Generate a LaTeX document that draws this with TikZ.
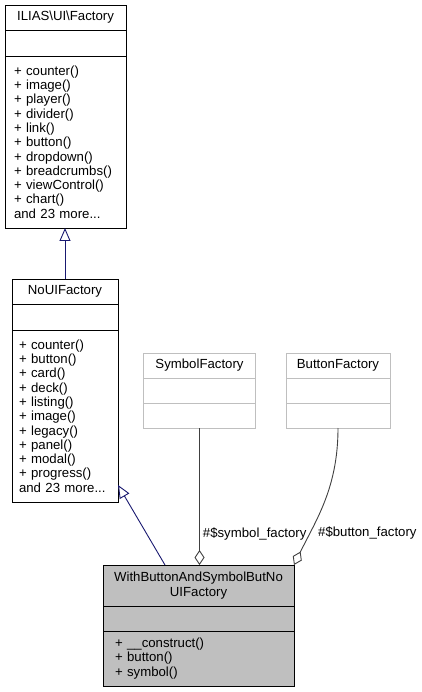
\documentclass[tikz,border=0pt]{standalone}
\usepackage{fontspec}
\setmainfont{Liberation Sans}
\usetikzlibrary{positioning,arrows.meta}

\definecolor{inheritblue}{HTML}{191970}
\definecolor{aggrgray}{HTML}{404040}
\definecolor{softgray}{HTML}{BFBFBF}
\newcommand{\umlfont}{\fontsize{13.2}{14.3}\selectfont}

\tikzset{
  cls/.style={rectangle, draw=black, fill=white, line width=0.9pt,
    inner sep=0pt, outer sep=0pt, font=\umlfont},
  clstitle/.style={cls, align=center, minimum width=#1, minimum height=25pt},
  clsfield/.style={cls, minimum width=#1, minimum height=25pt},
  clsmeth/.style={cls, align=left, text width=#1},
  ghost/.style={draw=softgray},
  focus/.style={fill=softgray},
  inherit/.style={draw=inheritblue, line width=0.9pt,
    -{Triangle[length=13pt, width=11pt, fill=white]}},
  aggr/.style={draw=aggrgray, line width=0.9pt,
    -{Diamond[length=15pt, width=10pt, fill=white]}},
  rolelabel/.style={font=\umlfont, inner sep=0pt}
}

\begin{document}
\begin{tikzpicture}[x=1pt, y=-1pt]
    \useasboundingbox (0,0) rectangle (422,692);

    % interface
    \node[clstitle=121pt] (ilias) at (65.5,17.5) {ILIAS\textbackslash UI\textbackslash Factory};
    \node[clsfield=121pt, minimum height=26pt, below=0pt of ilias] (iliasA) {};
    \node[clsmeth=103pt, inner xsep=9pt, minimum height=172pt, below=0pt of iliasA] (iliasM)
        {+ counter()\\+ image()\\+ player()\\+ divider()\\+ link()\\+ button()\\
         + dropdown()\\+ breadcrumbs()\\+ viewControl()\\+ chart()\\and 23 more...};

    % base class
    \node[clstitle=106pt] (noui) at (65,291.5) {NoUIFactory};
    \node[clsfield=106pt, minimum height=26pt, below=0pt of noui] (nouiA) {};
    \node[clsmeth=92pt, inner xsep=7pt, minimum height=172pt, below=0pt of nouiA] (nouiM)
        {+ counter()\\+ button()\\+ card()\\+ deck()\\+ listing()\\+ image()\\
         + legacy()\\+ panel()\\+ modal()\\+ progress()\\and 23 more...};

    % used factories
    \node[clstitle=112pt, ghost] (sym) at (199.5,365.5) {SymbolFactory};
    \node[clsfield=112pt, ghost, below=0pt of sym] (symA) {};
    \node[clsfield=112pt, ghost, below=0pt of symA] (symM) {};

    \node[clstitle=104pt, ghost] (btn) at (338,365.5) {ButtonFactory};
    \node[clsfield=104pt, ghost, below=0pt of btn] (btnA) {};
    \node[clsfield=104pt, ghost, below=0pt of btnA] (btnM) {};

    % the class itself
    \node[clstitle=191pt, focus, minimum height=41pt] (wbt) at (198.5,585.5)
        {WithButtonAndSymbolButNo\\UIFactory};
    \node[clsfield=191pt, focus, below=0pt of wbt] (wbtA) {};
    \node[clsmeth=167pt, focus, inner xsep=12pt, minimum height=55pt, below=0pt of wbtA] (wbtM)
        {+ \_\_construct()\\+ button()\\+ symbol()};

    % edges
    \draw[inherit] (noui.north) -- (noui.north |- iliasM.south);
    \draw[inherit] ([xshift=62pt]wbt.north west) -- ([yshift=17pt]nouiM.south east);

    \draw[aggr] (symM.south) -- (symM.south |- wbt.north)
        node[rolelabel, pos=0.77, right=3pt] (symrole) {\#\$symbol\_factory};
    \draw[aggr] (btnM.south) .. controls +(0,60) and +(22,-45) .. (wbt.north east);
    \node[rolelabel, anchor=west] (btnrole) at (318,533) {\#\$button\_factory};
\end{tikzpicture}
\end{document}
